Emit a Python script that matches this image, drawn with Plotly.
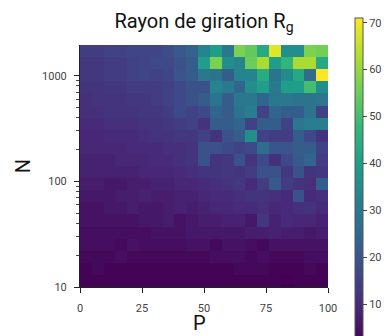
import numpy as np
import plotly.graph_objects as go

# P values (columns) and N range (rows, log scale)
P = [0, 5, 10, 15, 20, 25, 30, 35, 40, 45, 50, 55, 60, 65, 70, 75, 80, 85, 90, 95, 100]
N_min = 10
N_max = 1950
n_rows = 20

# Rg values, rows listed from top (largest N) to bottom (smallest N)
Rg_top_to_bottom = [
    [14, 14, 15, 15, 16, 16, 16, 18, 21, 23, 33, 40, 29, 57, 54, 43, 68, 36, 36, 57, 56],
    [13, 13, 14, 14, 15, 16, 17, 17, 19, 22, 40, 57, 36, 33, 55, 62, 40, 47, 62, 62, 43],
    [13, 13, 14, 14, 15, 16, 15, 16, 20, 22, 29, 28, 22, 33, 33, 44, 28, 35, 43, 26, 71],
    [12, 12, 13, 13, 14, 14, 14, 15, 17, 19, 19, 33, 30, 24, 36, 40, 30, 40, 40, 50, 36],
    [11, 12, 12, 12, 13, 13, 14, 15, 17, 19, 22, 28, 22, 29, 29, 24, 29, 29, 28, 28, 29],
    [11, 11, 12, 12, 12, 13, 13, 14, 17, 15, 17, 24, 22, 28, 31, 15, 24, 22, 22, 28, 15],
    [10, 10, 11, 11, 11, 12, 12, 13, 14, 15, 12, 22, 22, 24, 15, 22, 22, 15, 29, 31, 31],
    [9, 9, 10, 10, 10, 11, 12, 12, 13, 13, 15, 12, 19, 22, 36, 15, 14, 14, 22, 17, 12],
    [9, 9, 9, 9, 10, 10, 10, 11, 11, 12, 19, 19, 17, 15, 17, 26, 20, 20, 22, 22, 15],
    [8, 8, 8, 9, 9, 9, 10, 10, 11, 12, 19, 12, 13, 19, 12, 17, 11, 17, 21, 24, 14],
    [8, 8, 8, 8, 8, 9, 9, 9, 10, 11, 12, 12, 13, 12, 14, 19, 19, 13, 19, 12, 13],
    [7, 7, 6, 6, 7, 7, 8, 8, 9, 9, 10, 11, 12, 13, 10, 14, 21, 14, 12, 11, 22],
    [6, 6, 6, 7, 7, 8, 7, 7, 8, 8, 9, 10, 10, 11, 12, 12, 11, 10, 19, 10, 11],
    [5, 5, 6, 6, 7, 6, 6, 7, 8, 7, 8, 9, 9, 10, 10, 11, 9, 10, 11, 12, 10],
    [5, 5, 5, 5, 5, 6, 6, 7, 5, 6, 7, 7, 8, 8, 6, 13, 8, 10, 9, 9, 8],
    [4, 4, 4, 4, 4, 4, 5, 5, 5, 6, 6, 6, 6, 6, 7, 7, 8, 7, 7, 6, 7],
    [4, 4, 4, 3, 5, 4, 4, 4, 4, 5, 5, 3, 5, 5, 4, 3, 5, 5, 5, 5, 5],
    [3, 3, 3, 4, 3, 3, 3, 3, 3, 3, 3, 4, 4, 4, 3, 4, 3, 3, 3, 4, 4],
    [2, 3, 2, 2, 2, 2, 2, 2, 2, 2, 2, 2, 2, 3, 3, 3, 2, 2, 2, 3, 2],
    [2, 2, 2, 2, 2, 2, 2, 2, 2, 2, 2, 2, 2, 2, 2, 2, 2, 1.5, 2, 2, 2],
]

z = np.array(Rg_top_to_bottom[::-1], dtype=float)
x_edges = np.linspace(P[0], P[-1], len(P) + 1)
y_edges = np.geomspace(N_min, N_max, n_rows + 1)

# the page body adds an 8 px offset; figure coordinates = screen - 8
W, H = 391, 336
L, T = 72, 37
pw, ph = 248, 242
R = W - L - pw
B = H - T - ph

fig = go.Figure(
    go.Heatmap(
        x=x_edges,
        y=y_edges,
        z=z,
        colorscale="Viridis",
        zmin=1.5,
        zmax=71,
        colorbar=dict(
            thickness=8,
            lenmode="pixels",
            len=326,
            yanchor="top",
            y=1 + (T - 10) / ph,
            xanchor="left",
            x=(347 - L) / pw,
            xpad=0,
            ypad=0,
            outlinewidth=1,
            outlinecolor="#555",
            ticks="outside",
            ticklen=4,
            tickcolor="#444",
            tickvals=[10, 20, 30, 40, 50, 60, 70],
            tickfont=dict(family="Roboto", size=11, color="#444"),
        ),
    )
)

fig.update_layout(
    width=W,
    height=H,
    margin=dict(l=L, r=R, t=T, b=B, autoexpand=False),
    paper_bgcolor="white",
    plot_bgcolor="white",
    font=dict(family="Roboto", color="#222"),
    title=dict(
        text="Rayon de giration R<sub>g</sub>",
        x=0.5,
        xref="paper",
        xanchor="center",
        yref="container",
        y=1 - 13 / H,
        yanchor="middle",
        font=dict(family="Roboto", size=20, color="#111"),
    ),
    xaxis=dict(
        range=[0, 100],
        tickvals=[0, 25, 50, 75, 100],
        ticks="outside",
        ticklen=5,
        tickcolor="#222",
        showline=True,
        linecolor="#222",
        linewidth=1,
        showgrid=False,
        zeroline=False,
        ticklabelstandoff=6,
        tickfont=dict(family="Roboto", size=11, color="#444"),
    ),
    yaxis=dict(
        type="log",
        range=[np.log10(N_min), np.log10(N_max)],
        dtick=1,
        exponentformat="none",
        ticks="outside",
        ticklen=5,
        tickcolor="#222",
        showline=True,
        linecolor="#222",
        linewidth=1,
        showgrid=False,
        zeroline=False,
        ticklabelstandoff=5,
        tickfont=dict(family="Roboto", size=11, color="#444"),
        minor=dict(ticks="outside", ticklen=3, tickcolor="#444", dtick="D1", showgrid=False),
        title=dict(text="N", font=dict(family="Roboto", size=20, color="#111"), standoff=6),
    ),
    annotations=[
        dict(
            text="P",
            xref="paper",
            yref="paper",
            x=0.48,
            y=-36 / ph,
            xanchor="center",
            yanchor="middle",
            showarrow=False,
            font=dict(family="Roboto", size=20, color="#111"),
        )
    ],
)

fig.write_html("out.html")
